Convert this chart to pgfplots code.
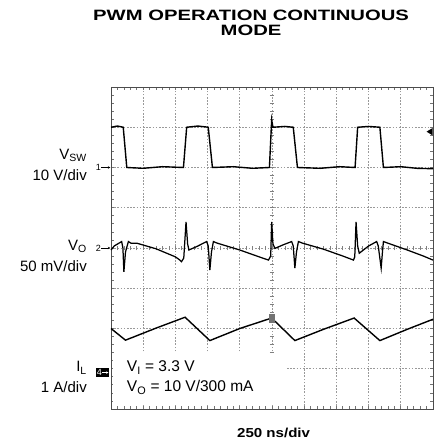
\documentclass[border=0pt]{standalone}
\usepackage{fontspec}
\setmainfont{Liberation Sans}
\usepackage{pgfplots}
\pgfplotsset{compat=1.18}
\usetikzlibrary{arrows.meta}
\begin{document}
\begin{tikzpicture}
\useasboundingbox (0,0) rectangle (438pt,446pt);
\begin{axis}[at={(111pt,37pt)}, anchor=south west,
  width=322pt, height=322pt, scale only axis,
  xmin=0, xmax=10, ymin=0, ymax=8,
  xtick={0,...,10}, ytick={0,...,8},
  minor x tick num=4, minor y tick num=4,
  xticklabels={}, yticklabels={},
  tick align=inside, major tick length=3pt, minor tick length=3pt,
  tick style={black!55, line width=0.7pt},
  xmajorgrids=true, ymajorgrids=true,
  major grid style={draw=black!40, dash pattern=on 1.6pt off 1.6pt, line width=0.9pt},
  axis line style={black!70, line width=0.9pt},
  clip=false]
% centre-line ticks
\pgfplotsinvokeforeach{1,...,49}{\draw[black!50, line width=0.7pt] (axis cs:#1/5,3.94) -- (axis cs:#1/5,4.06);}
\pgfplotsinvokeforeach{1,...,39}{\draw[black!50, line width=0.7pt] (axis cs:4.93,#1/5) -- (axis cs:5.07,#1/5);}
% white box behind the conditions
\fill[white] (axis cs:0.06,0.1) rectangle (axis cs:5.45,1.38);
% V_SW (channel 1), in divisions
\addplot[black, line width=1.4pt] coordinates {
(0,7.0) (0.2,7.03) (0.38,7.0) (0.49,6.0) (1.0,5.98) (1.6,6.02) (2.25,6.0) (2.35,7.0)
(2.7,7.03) (3.02,7.0) (3.15,6.0) (3.8,6.02) (4.4,5.98) (4.92,6.0) (4.99,7.18) (5.03,7.0)
(5.4,7.02) (5.66,7.0) (5.79,6.0) (6.5,5.98) (7.1,6.02) (7.58,6.0) (7.66,7.0) (8.0,7.02)
(8.35,7.0) (8.46,6.0) (9.0,6.02) (9.5,5.98) (10,5.97)};
% V_O (channel 2)
\addplot[black, line width=1.25pt] coordinates {
(0,3.95) (0.1,4.05) (0.33,4.16) (0.37,4.0) (0.40,3.41) (0.45,3.9) (0.54,4.16) (0.62,4.12)
(0.8,4.12) (1.4,3.98) (2.0,3.78) (2.14,3.70) (2.19,3.66) (2.26,3.75) (2.33,4.65) (2.38,4.1)
(2.42,3.95) (2.7,4.05) (2.97,4.16) (3.02,4.05) (3.07,3.45) (3.12,3.9) (3.18,4.16) (3.3,4.12)
(4.0,3.95) (4.6,3.78) (4.89,3.70) (4.96,3.80) (4.99,4.65) (5.03,4.1) (5.09,3.99) (5.35,4.08)
(5.61,4.16) (5.66,4.05) (5.71,3.50) (5.76,3.9) (5.82,4.16) (5.95,4.12) (6.6,3.97) (7.2,3.80)
(7.53,3.70) (7.57,3.78) (7.61,4.65) (7.66,4.05) (7.71,3.87) (8.0,4.05) (8.25,4.16) (8.30,4.05)
(8.39,3.50) (8.43,3.9) (8.46,4.16) (8.6,4.12) (9.2,3.95) (9.7,3.80) (10,3.70)};
% I_L (channel 4)
\addplot[black, line width=1.4pt] coordinates {
(0,2.00) (0.45,1.71) (1.4,2.01) (2.30,2.28) (3.07,1.70) (4.0,2.0) (4.99,2.26)
(5.71,1.70) (6.6,1.98) (7.55,2.26) (8.35,1.70) (9.2,1.98) (10,2.23)};
% trigger marker on I_L and trigger level marker
\fill[black!55] (axis cs:4.90,2.14) rectangle (axis cs:5.08,2.36);
\fill[black] (axis cs:9.80,6.89) -- (axis cs:9.985,6.98) -- (axis cs:9.985,6.80) -- cycle;
% channel markers
\node[font=\fontsize{9}{9}\selectfont, anchor=east, inner sep=0pt] at (axis cs:-0.31,6.0) {1};
\draw[-{Stealth[length=2.5pt,width=2.6pt]}, line width=0.6pt] (axis cs:-0.3,6.0) -- (axis cs:-0.02,6.0);
\node[font=\fontsize{9}{9}\selectfont, anchor=east, inner sep=0pt] at (axis cs:-0.31,4.0) {2};
\draw[-{Stealth[length=2.5pt,width=2.6pt]}, line width=0.6pt] (axis cs:-0.3,4.0) -- (axis cs:-0.02,4.0);
\fill[black] (axis cs:-0.47,0.80) rectangle (axis cs:-0.05,1.01);
\node[font=\fontsize{9}{9}\selectfont, anchor=east, inner sep=0pt, text=white] at (axis cs:-0.28,0.905) {4};
\draw[white, -{Stealth[length=2.2pt,width=2.4pt]}, line width=0.6pt] (axis cs:-0.27,0.905) -- (axis cs:-0.08,0.905);
% left labels
\begin{scope}[every node/.style={font=\fontsize{15}{17}\selectfont, anchor=base east, inner sep=0pt}]
\node at (axis cs:-0.745,6.21) {V\textsubscript{SW}};
\node at (axis cs:-0.745,5.68) {10 V/div};
\node at (axis cs:-0.745,3.94) {V\textsubscript{O}};
\node at (axis cs:-0.745,3.42) {50 mV/div};
\node at (axis cs:-0.745,0.92) {I\textsubscript{L}};
\node at (axis cs:-0.745,0.40) {1 A/div};
\end{scope}
% conditions
\begin{scope}[every node/.style={font=\fontsize{15.5}{17}\selectfont, anchor=base west, inner sep=0pt}]
\node at (axis cs:0.49,0.927) {V\textsubscript{I} = 3.3 V};
\node at (axis cs:0.49,0.43) {V\textsubscript{O} = 10 V/300 mA};
\end{scope}
% title and time base
\node[anchor=base, inner sep=0pt, font=\fontsize{15}{17}\selectfont\bfseries] at (axis cs:4.35,9.64) {\scalebox{1.35}[1]{PWM OPERATION CONTINUOUS}};
\node[anchor=base, inner sep=0pt, font=\fontsize{15}{17}\selectfont\bfseries] at (axis cs:4.35,9.28) {\scalebox{1.35}[1]{MODE}};
\node[anchor=base, inner sep=0pt, font=\fontsize{13}{15}\selectfont\bfseries] at (axis cs:5.05,-0.70) {\scalebox{1.16}[1]{250 ns/div}};
\end{axis}
\end{tikzpicture}
\end{document}
